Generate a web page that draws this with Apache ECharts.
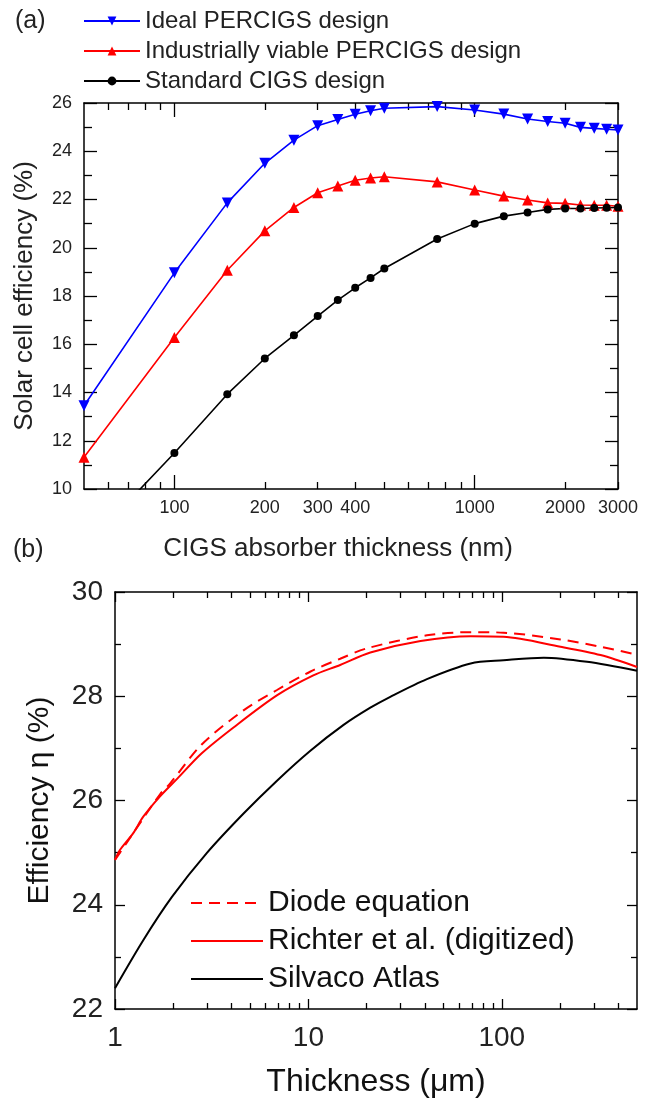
<!DOCTYPE html>
<html><head><meta charset="utf-8">
<script src="https://cdn.jsdelivr.net/npm/echarts@6/dist/echarts.min.js"></script>
<style>html,body{margin:0;padding:0;background:#fff}#c{width:652px;height:1101px}</style>
</head><body><div id="c"></div>
<script>
// ---------- Panel (a) data ----------
const thicknessNm = [50,100,150,200,250,300,350,400,450,500,750,1000,1250,1500,1750,2000,2250,2500,2750,3000];
const idealPercigs = [13.45,18.96,21.86,23.5,24.46,25.06,25.32,25.53,25.68,25.78,25.85,25.71,25.54,25.34,25.23,25.16,24.99,24.95,24.91,24.88];
const industrialPercigs = [11.32,16.28,19.07,20.70,21.67,22.28,22.56,22.80,22.89,22.94,22.73,22.39,22.14,21.98,21.86,21.84,21.77,21.76,21.76,21.72];
const standardCigs = [7.55,11.49,13.93,15.41,16.37,17.17,17.83,18.34,18.75,19.14,20.36,21.0,21.31,21.46,21.59,21.63,21.63,21.65,21.66,21.67];
const namesA = ['Ideal PERCIGS design','Industrially viable PERCIGS design','Standard CIGS design'];
const xLabelsA = [100,200,300,400,1000,2000,3000];
const xMajorA = [100,1000];
const xMinorA = [60,70,80,90,200,300,400,500,600,700,800,900,2000,3000];

// ---------- Panel (b) data ----------
const diodeX = [1,1.24,1.71,1.93,2.8,4.62,6.88,10.2,14.6,20.1,41,69,102,201,324,480,500];
const diodeY = [24.86,25.37,26.12,26.33,27.07,27.73,28.12,28.47,28.72,28.92,29.17,29.23,29.22,29.09,28.95,28.81,28.78];
const richterX = [1,1.06,1.24,1.4,1.71,2.1,2.8,4.1,6.9,10.6,14.6,20.9,38,69,102,201,324,500];
const richterY = [24.86,25.05,25.37,25.69,26.08,26.42,26.9,27.4,28.02,28.4,28.6,28.84,29.06,29.15,29.14,28.95,28.79,28.56];
const silvacoX = [1,1.4,1.97,2.98,4.62,6.88,10.2,15.2,20.9,26.5,41,69,102,165,276,500];
const silvacoY = [22.4,23.32,24.15,24.99,25.75,26.38,26.95,27.45,27.78,27.99,28.33,28.63,28.69,28.74,28.66,28.49];
const namesB = ['Diode equation','Richter et al. (digitized)','Silvaco Atlas'];
const xLabelsB = [1,10,100];
const xMajorB = [1,10,100];
const xMinorB = [2,3,4,5,6,7,8,9,20,30,40,50,60,70,80,90,200,300,400];

const FONT = '"Liberation Sans", Arial, Helvetica, sans-serif';
const pair = (xs, ys) => xs.map((x, i) => [x, ys[i]]);

function xAx(grid, pos, min, max, ticks, len, line, labels, fs, margin, extra) {
  return Object.assign({
    type: 'log', logBase: 10, gridIndex: grid, position: pos, min: min, max: max,
    axisLine: { show: line, lineStyle: { color: '#000', width: 1.5 } },
    axisTick: { show: true, inside: true, length: len, customValues: ticks, lineStyle: { color: '#000', width: 1.3 } },
    axisLabel: labels ? { show: true, customValues: labels, fontSize: fs, color: '#222', fontFamily: FONT, margin: margin,
      formatter: v => String(Math.round(v)) } : { show: false },
    splitLine: { show: false }, minorTick: { show: false }, minorSplitLine: { show: false }
  }, extra || {});
}
function yAx(grid, pos, min, max, len, mlen, labels, fs, extra) {
  return Object.assign({
    type: 'value', gridIndex: grid, position: pos, min: min, max: max, interval: 2,
    axisLine: { show: true, lineStyle: { color: '#000', width: 1.5 } },
    axisTick: { show: true, inside: true, length: len, lineStyle: { color: '#000', width: 1.3 } },
    minorTick: { show: true, splitNumber: 2, length: mlen, lineStyle: { color: '#000', width: 1.3 } },
    axisLabel: labels ? { show: true, fontSize: fs, color: '#222', fontFamily: FONT, margin: 12 } : { show: false },
    splitLine: { show: false }
  }, extra || {});
}

const chart = echarts.init(document.getElementById('c'), null, { renderer: 'canvas' });
chart.setOption({
  backgroundColor: '#fff',
  animation: false,
  textStyle: { fontFamily: FONT },
  grid: [
    { left: 84, top: 103, width: 534, height: 386, outerBoundsMode: 'none' },
    { left: 115, top: 592, width: 522, height: 417, outerBoundsMode: 'none' }
  ],
  graphic: [
    { type: 'text', left: 15, top: 9, style: { text: '(a)', fontSize: 25, fontFamily: FONT, fill: '#222' } },
    { type: 'text', left: 13, top: 538, style: { text: '(b)', fontSize: 25, fontFamily: FONT, fill: '#222' } }
  ],
  legend: [
    { data: namesA, orient: 'vertical', left: 83, top: 9, itemWidth: 56, itemHeight: 11, itemGap: 6,
      textStyle: { fontSize: 24, color: '#222', fontFamily: FONT }, padding: 0 },
    { data: namesB, orient: 'vertical', left: 190, top: 888, itemWidth: 72, itemHeight: 14, itemGap: 8,
      itemStyle: { opacity: 0, color: 'rgba(0,0,0,0)', borderWidth: 0 },
      textStyle: { fontSize: 30, color: '#111', fontFamily: FONT }, padding: 0 }
  ],
  xAxis: [
    xAx(0, 'bottom', 50, 3000, xMinorA, 7, true, xLabelsA, 18, 10, {
      name: 'CIGS absorber thickness (nm)', nameLocation: 'middle', nameGap: 47,
      nameTextStyle: { fontSize: 26, color: '#222', fontFamily: FONT, padding: [0, 26, 0, 0] } }),
    xAx(0, 'bottom', 50, 3000, xMajorA, 14, false, null),
    xAx(0, 'top', 50, 3000, xMinorA, 7, true, null),
    xAx(0, 'top', 50, 3000, xMajorA, 14, false, null),
    xAx(1, 'bottom', 1, 500, xMinorB, 6, true, xLabelsB, 28, 15, {
      name: 'Thickness (\u03bcm)', nameLocation: 'middle', nameGap: 57,
      nameTextStyle: { fontSize: 32, color: '#111', fontFamily: FONT } }),
    xAx(1, 'bottom', 1, 500, xMajorB, 10, false, null),
    xAx(1, 'top', 1, 500, xMinorB, 6, true, null),
    xAx(1, 'top', 1, 500, xMajorB, 10, false, null)
  ],
  yAxis: [
    yAx(0, 'left', 10, 26, 13, 8, true, 18, {
      name: 'Solar cell efficiency (%)', nameLocation: 'middle', nameGap: 46,
      nameTextStyle: { fontSize: 26, color: '#222', fontFamily: FONT } }),
    yAx(0, 'right', 10, 26, 13, 8, false),
    yAx(1, 'left', 22, 30, 10, 6, true, 28, {
      name: 'Efficiency \u03b7 (%)', nameLocation: 'middle', nameGap: 60,
      nameTextStyle: { fontSize: 30, color: '#111', fontFamily: FONT } }),
    yAx(1, 'right', 22, 30, 10, 6, false)
  ],
  series: [
    { name: namesA[0], type: 'line', xAxisIndex: 0, yAxisIndex: 0, data: pair(thicknessNm, idealPercigs),
      symbol: 'triangle', symbolRotate: 180, symbolSize: 11, color: '#0000ff',
      lineStyle: { color: '#0000ff', width: 1.6 }, itemStyle: { color: '#0000ff' } },
    { name: namesA[1], type: 'line', xAxisIndex: 0, yAxisIndex: 0, data: pair(thicknessNm, industrialPercigs),
      symbol: 'triangle', symbolSize: 11, color: '#ff0000',
      lineStyle: { color: '#ff0000', width: 1.6 }, itemStyle: { color: '#ff0000' } },
    { name: namesA[2], type: 'line', xAxisIndex: 0, yAxisIndex: 0, data: pair(thicknessNm, standardCigs),
      symbol: 'circle', symbolSize: 8, color: '#000',
      lineStyle: { color: '#000', width: 1.6 }, itemStyle: { color: '#000' } },
    { name: namesB[0], type: 'line', xAxisIndex: 4, yAxisIndex: 2, data: pair(diodeX, diodeY),
      symbol: 'none', smooth: 0.3, color: '#ff0000',
      lineStyle: { color: '#ff0000', width: 2, type: [11, 7] } },
    { name: namesB[1], type: 'line', xAxisIndex: 4, yAxisIndex: 2, data: pair(richterX, richterY),
      symbol: 'none', smooth: 0.3, color: '#ff0000',
      lineStyle: { color: '#ff0000', width: 2 } },
    { name: namesB[2], type: 'line', xAxisIndex: 4, yAxisIndex: 2, data: pair(silvacoX, silvacoY),
      symbol: 'none', smooth: 0.3, color: '#000',
      lineStyle: { color: '#000', width: 2 } }
  ]
});
</script>
</body></html>
